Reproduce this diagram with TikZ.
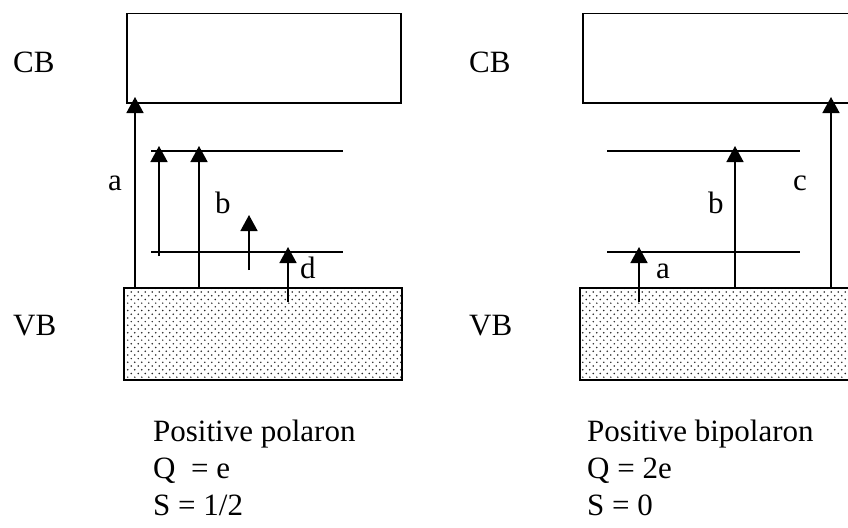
\documentclass[tikz,border=0pt]{standalone}
\usepackage{fontspec}
\setmainfont{Liberation Serif}
\usetikzlibrary{arrows.meta,patterns}
\pgfdeclarepatternformonly{stipple}{\pgfpoint{-1pt}{-1pt}}{\pgfpoint{8pt}{8pt}}{\pgfpoint{7pt}{7.4pt}}{%
  \pgfpathcircle{\pgfpoint{1.75pt}{1.85pt}}{0.85pt}%
  \pgfpathcircle{\pgfpoint{5.25pt}{5.55pt}}{0.85pt}%
  \pgfusepath{fill}}
\begin{document}
\begin{tikzpicture}[x=1pt,y=-1pt,
  txt/.style={font=\fontsize{31}{37}\selectfont, inner sep=0pt, anchor=base west},
  box/.style={draw=black, line width=1.5pt},
  level/.style={draw=black, line width=1.5pt},
  trans/.style={draw=black, line width=1.6pt, -{Triangle[width=17pt,length=16pt]}}]
\useasboundingbox (0,0) rectangle (848,527);
% ---------- left diagram ----------
\node[box, minimum width=274pt, minimum height=89pt, inner sep=0pt, anchor=north west] (cbL) at (126,13) {};
\node[box, pattern=stipple, pattern color=black!85, minimum width=278pt, minimum height=92pt, inner sep=0pt, anchor=north west] (vbL) at (123,287) {};
\coordinate (uL1) at (151,151); \coordinate (uL2) at (343,151);
\coordinate (lL1) at (151,252); \coordinate (lL2) at (343,252);
\draw[level] (uL1) -- (uL2);
\draw[level] (lL1) -- (lL2);
\coordinate (aL0) at (135,287); \coordinate (aL1) at (135,97);
\coordinate (b1L0) at (159,256); \coordinate (b1L1) at (159,146);
\coordinate (b2L0) at (199,287); \coordinate (b2L1) at (199,146);
\coordinate (cL0) at (249,270); \coordinate (cL1) at (249,215);
\coordinate (dL0) at (288,302); \coordinate (dL1) at (288,247);
\draw[trans] (aL0) -- (aL1);
\draw[trans] (b1L0) -- (b1L1);
\draw[trans] (b2L0) -- (b2L1);
\draw[trans] (cL0) -- (cL1);
\draw[trans] (dL0) -- (dL1);
\node[txt] (lblaL) at (108,190) {a};
\node[txt] (lblbL) at (215,213) {b};
\node[txt] (lbldL) at (300,278) {d};
\node[txt] (CBL) at (13,73) {CB};
\node[txt] (VBL) at (13,335) {VB};
\node[txt, align=left, anchor=north west] (capL) at (153,420) {Positive polaron\\Q\ \ = e\\S = 1/2};
% ---------- right diagram ----------
\node[box, minimum width=280pt, minimum height=89pt, inner sep=0pt, anchor=north west] (cbR) at (582,13) {};
\node[box, pattern=stipple, pattern color=black!85, minimum width=280pt, minimum height=92pt, inner sep=0pt, anchor=north west] (vbR) at (579,287) {};
\coordinate (uR1) at (607,151); \coordinate (uR2) at (800,151);
\coordinate (lR1) at (607,252); \coordinate (lR2) at (800,252);
\draw[level] (uR1) -- (uR2);
\draw[level] (lR1) -- (lR2);
\coordinate (aR0) at (639,302); \coordinate (aR1) at (639,247);
\coordinate (bR0) at (735,287); \coordinate (bR1) at (735,146);
\coordinate (cR0) at (831,287); \coordinate (cR1) at (831,97);
\draw[trans] (aR0) -- (aR1);
\draw[trans] (bR0) -- (bR1);
\draw[trans] (cR0) -- (cR1);
\node[txt] (lblaR) at (656,278) {a};
\node[txt] (lblbR) at (708,213) {b};
\node[txt] (lblcR) at (793,190) {c};
\node[txt] (CBR) at (469,73) {CB};
\node[txt] (VBR) at (469,335) {VB};
\node[txt, align=left, anchor=north west] (capR) at (587,420) {Positive bipolaron\\Q = 2e\\S = 0};
\end{tikzpicture}
\end{document}
